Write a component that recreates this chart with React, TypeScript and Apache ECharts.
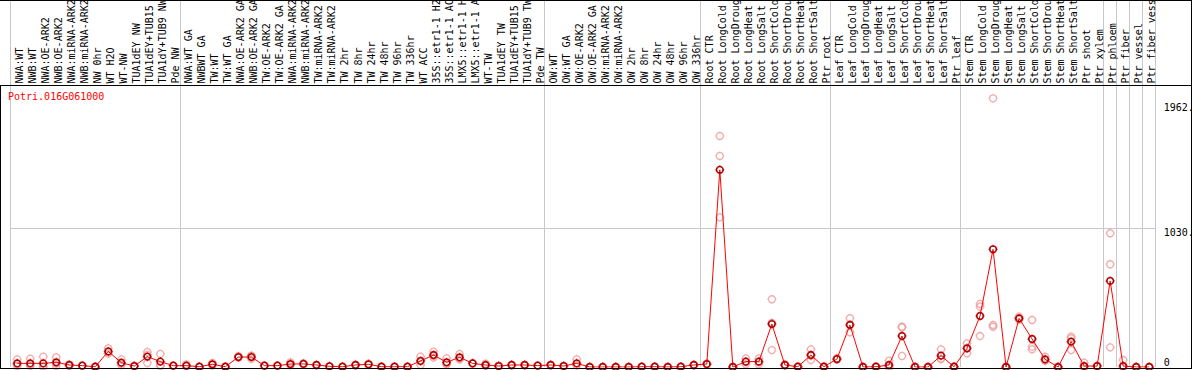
import React, { useEffect, useRef } from "react";
import * as echarts from "echarts";

const geneTitle = "Potri.016G061000";

const groupNW = ["NWA:WT", "NWB:WT", "NWA:OE-ARK2", "NWB:OE-ARK2", "NWA:miRNA-ARK2", "NWB:miRNA-ARK2", "NW 0hr", "WT H2O", "WT-NW", "TUA1dEY NW", "TUA1dEY+TUB15 NW", "TUA1dY+TUB9 NW", "Pde NW"];
const groupTW = ["NWA:WT GA", "NWBWT GA", "TW:WT", "TW:WT GA", "NWA:OE-ARK2 GA", "NWB:OE-ARK2 GA", "TW:OE-ARK2", "TW:OE-ARK2 GA", "NWA:miRNA-ARK2 GA", "NWB:miRNA-ARK2 GA", "TW:miRNA-ARK2", "TW:miRNA-ARK2 GA", "TW 2hr", "TW 8hr", "TW 24hr", "TW 48hr", "TW 96hr", "TW 336hr", "WT ACC", "35S::etr1-1 H2O", "35S::etr1-1 ACC", "LMX5::etr1-1 H2O", "LMX5::etr1-1 ACC", "WT-TW", "TUA1dEY TW", "TUA1dEY+TUB15 TW", "TUA1dY+TUB9 TW", "Pde TW"];
const groupOW = ["OW:WT", "OW:WT GA", "OW:OE-ARK2", "OW:OE-ARK2 GA", "OW:miRNA-ARK2", "OW:miRNA-ARK2 GA", "OW 2hr", "OW 8hr", "OW 24hr", "OW 48hr", "OW 96hr", "OW 336hr"];
const groupRoot = ["Root CTR", "Root LongCold", "Root LongDrought", "Root LongHeat", "Root LongSalt", "Root ShortCold", "Root ShortDrought", "Root ShortHeat", "Root ShortSalt", "Ptr root"];
const groupLeaf = ["Leaf CTR", "Leaf LongCold", "Leaf LongDrought", "Leaf LongHeat", "Leaf LongSalt", "Leaf ShortCold", "Leaf ShortDrought", "Leaf ShortHeat", "Leaf ShortSalt", "Ptr leaf"];
const groupStem = ["Stem CTR", "Stem LongCold", "Stem LongDrought", "Stem LongHeat", "Stem LongSalt", "Stem ShortCold", "Stem ShortDrought", "Stem ShortHeat", "Stem ShortSalt", "Ptr shoot", "Ptr xylem"];
const groupPhloem = ["Ptr phloem"];
const groupFiber = ["Ptr fiber"];
const groupVessel = ["Ptr vessel"];
const groupFiberVessel = ["Ptr fiber vessel"];

const groups = [groupNW, groupTW, groupOW, groupRoot, groupLeaf, groupStem, groupPhloem, groupFiber, groupVessel, groupFiberVessel];
const categories: string[] = groups.flat();

const meanValues = [
  27, 27, 27, 35, 15, 10, 2, 116, 32, 7, 77, 40, 10,
  10, 2, 20, 2, 74, 74, 10, 10, 22, 23, 15, 5, 2, 15, 20, 2, 2, 2, 45, 89, 35, 72, 27, 15, 7, 15, 15, 10,
  15, 7, 27, 0, 0, 0, 0, 2, 2, 0, 2, 15,
  22, 1464, 0, 40, 40, 319, 15, 2, 89, 2,
  59, 312, 0, 2, 15, 230, 0, 0, 84, 2,
  139, 379, 874, 0, 361, 208, 57, 0, 188, 7, 7,
  639, 7, 0, 0,
];

const replicateA = [
  57, 62, 77, 72, 20, 12, 3, 139, 57, 9, 111, 97, 12,
  20, 3, 30, 3, 80, 85, 12, 12, 35, 28, 16, 6, 3, 18, 25, 3, 3, 3, 77, 114, 64, 97, 30, 25, 9, 18, 18, 12,
  18, 9, 57, 1, 1, 1, 1, 3, 3, 1, 3, 18,
  25, 1715, 1, 64, 64, 503, 20, 3, 131, 3,
  65, 362, 1, 3, 47, 299, 1, 1, 131, 3,
  176, 468, 1995, 1, 374, 349, 77, 1, 213, 32, 9,
  993, 52, 1, 1,
];
const replicateB = [
  7, 7, 7, 7, 7, 8, 0, 100, 15, 5, 30, 7, 8,
  5, 1, 10, 1, 70, 60, 8, 8, 15, 18, 14, 4, 1, 12, 15, 1, 1, 1, 15, 70, 20, 55, 25, 10, 5, 12, 12, 8,
  12, 5, 10, 0, 0, 0, 0, 1, 1, 0, 1, 12,
  20, 1567, 0, 20, 20, 126, 12, 1, 52, 1,
  55, 258, 0, 1, 0, 82, 0, 0, 60, 1,
  102, 448, 312, 0, 350, 151, 45, 0, 126, 0, 5,
  763, 0, 0, 0,
];
const replicateC = [
  20, 15, 0, 25, 15, 10, 2, 110, 25, 7, 90, 15, 10,
  8, 2, 20, 2, 72, 77, 10, 10, 16, 23, 15, 5, 2, 15, 20, 2, 2, 2, 43, 83, 21, 64, 26, 10, 7, 15, 15, 10,
  15, 7, 14, 0, 0, 0, 0, 2, 2, 0, 2, 15,
  21, 1111, 0, 36, 36, 328, 13, 2, 84, 2,
  57, 316, 0, 2, 0, 294, 0, 0, 61, 2,
  139, 230, 299, 0, 360, 131, 50, 0, 225, 0, 7,
  146, 0, 0, 0,
];

const yTickValues = [0, 1030, 1962];
const gridLineValue = 1030;
const yMax = 2090;

// group boundary indices (left edge of each group)
const groupStarts: number[] = [];
{
  let acc = 0;
  for (const g of groups) {
    groupStarts.push(acc);
    acc += g.length;
  }
}

const MONO = "DejaVu Sans Mono";
const RING =
  "path://M9,2C12.866,2 16,5.134 16,9C16,12.866 12.866,16 9,16C5.134,16 2,12.866 2,9C2,5.134 5.134,2 9,2Z" +
  "M9,0L9,2M9,16L9,18M0,9L2,9M16,9L18,9";

export default function App() {
  const ref = useRef<HTMLDivElement>(null);
  useEffect(() => {
    const chart = echarts.init(ref.current!, null, { renderer: "svg" });
    const replicateData: number[][] = [];
    [replicateA, replicateB, replicateC].forEach((rep) => {
      rep.forEach((v, i) => replicateData.push([i, v]));
    });
    const splitLine = {
      show: true,
      interval: (index: number) => groupStarts.indexOf(index) >= 0,
      lineStyle: { color: "#c8c8c8", width: 1 },
    };
    const L = 10.7;
    const R = 1194 - 1155.7;
    chart.setOption({
      animation: false,
      backgroundColor: "#ffffff",
      title: {
        text: geneTitle,
        left: 8,
        top: 91,
        padding: 0,
        textStyle: { color: "#ff0000", fontSize: 10, fontFamily: MONO, fontWeight: "normal" },
      },
      grid: [
        { left: L, right: R, top: 85.5, bottom: 3, containLabel: false, outerBoundsMode: "none" },
        { left: L, right: R, top: 0, height: 85.5, containLabel: false, outerBoundsMode: "none" },
      ],
      xAxis: [
        {
          type: "category",
          gridIndex: 0,
          data: categories,
          position: "top",
          boundaryGap: true,
          axisLine: { show: false },
          axisTick: { show: false },
          axisLabel: {
            interval: 0,
            rotate: 90,
            margin: 2,
            lineHeight: 5,
            formatter: (v: string) => "\n" + v,
            fontSize: 10,
            fontFamily: MONO,
            color: "#000000",
          },
          splitLine,
        },
        {
          type: "category",
          gridIndex: 1,
          data: categories,
          boundaryGap: true,
          axisLine: { show: false },
          axisTick: { show: false },
          axisLabel: { show: false },
          splitLine,
        },
      ],
      yAxis: [
        {
          type: "value",
          gridIndex: 0,
          position: "right",
          min: 0,
          max: yMax,
          axisLine: { show: false },
          axisTick: { show: false, customValues: yTickValues },
          splitLine: { show: false },
          axisLabel: {
            customValues: yTickValues,
            margin: 8,
            fontSize: 10,
            fontFamily: MONO,
            color: "#000000",
            lineHeight: 9,
            formatter: (v: number) => (v === 0 ? "0\n" : "\n" + v + "."),
          },
        },
        { type: "value", gridIndex: 1, show: false, min: 0, max: 1 },
      ],
      series: [
        {
          type: "scatter",
          xAxisIndex: 0,
          yAxisIndex: 0,
          data: replicateData,
          symbol: RING,
          symbolSize: 9,
          itemStyle: { color: "rgba(0,0,0,0)", borderColor: "#ec9a9a", borderWidth: 1.3 },
          z: 1,
        },
        {
          type: "line",
          xAxisIndex: 0,
          yAxisIndex: 0,
          data: meanValues,
          symbol: RING,
          symbolSize: 9,
          showAllSymbol: true,
          lineStyle: { color: "#ff0000", width: 1 },
          itemStyle: { color: "rgba(0,0,0,0)", borderColor: "#ff0000", borderWidth: 1.3 },
          z: 2,
          markLine: {
            silent: true,
            symbol: "none",
            label: { show: false },
            lineStyle: { color: "#c8c8c8", type: "solid", width: 1 },
            data: [{ yAxis: gridLineValue }],
            z: 0,
          },
        },
        {
          type: "scatter",
          xAxisIndex: 0,
          yAxisIndex: 0,
          data: meanValues.map((v, i) => [i, v]),
          symbol: "circle",
          symbolSize: 6,
          itemStyle: { color: "rgba(0,0,0,0)", borderColor: "#000000", borderWidth: 0.8 },
          z: 3,
        },
      ],
      graphic: [
        { type: "line", z: 100, shape: { x1: 0, y1: 0.5, x2: 1192, y2: 0.5 }, style: { stroke: "#000", lineWidth: 1 } },
        { type: "line", z: 100, shape: { x1: 0, y1: 85.5, x2: 1192, y2: 85.5 }, style: { stroke: "#000", lineWidth: 1 } },
        { type: "line", z: 100, shape: { x1: 0.5, y1: 85.5, x2: 0.5, y2: 368.5 }, style: { stroke: "#000", lineWidth: 1 } },
        { type: "line", z: 100, shape: { x1: 1191.5, y1: 0, x2: 1191.5, y2: 369 }, style: { stroke: "#000", lineWidth: 1 } },
        { type: "line", z: 100, shape: { x1: 0, y1: 368.5, x2: 1192, y2: 368.5 }, style: { stroke: "#000", lineWidth: 1 } },
      ],
    });
    return () => chart.dispose();
  }, []);
  return <div ref={ref} style={{ position: "absolute", left: 0, top: 0, width: 1194, height: 370 }} />;
}
